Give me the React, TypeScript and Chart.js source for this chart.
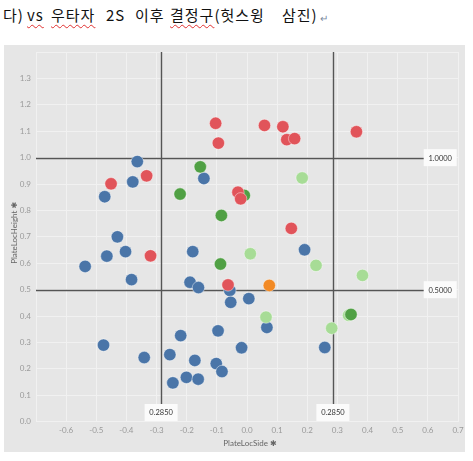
import React, { useEffect, useRef } from "react";
import { Chart, registerables } from "chart.js";
Chart.register(...registerables);

// ---- data ----
const blueX = [-0.364, -0.379, -0.472, -0.143, -0.43, -0.403, -0.465, -0.537, -0.383, -0.18, 0.191, -0.189, -0.161, -0.057, -0.054, 0.006, 0.066, -0.096, -0.22, -0.018, 0.258, -0.476, -0.341, -0.256, -0.173, -0.102, -0.083, -0.201, -0.162, -0.246];
const blueY = [0.985, 0.908, 0.852, 0.921, 0.7, 0.644, 0.627, 0.588, 0.538, 0.644, 0.651, 0.528, 0.508, 0.497, 0.452, 0.466, 0.357, 0.344, 0.326, 0.28, 0.281, 0.29, 0.243, 0.254, 0.232, 0.22, 0.19, 0.168, 0.161, 0.147];
const lightGreenX = [0.183, 0.011, 0.229, 0.383, 0.063, 0.337, 0.281];
const lightGreenY = [0.923, 0.636, 0.592, 0.554, 0.396, 0.403, 0.354];
const greenX = [-0.155, -0.222, -0.009, -0.085, -0.088, 0.345];
const greenY = [0.965, 0.862, 0.857, 0.781, 0.597, 0.406];
const orangeX = [0.074];
const orangeY = [0.516];
const redX = [-0.104, -0.095, 0.058, 0.119, 0.132, 0.158, 0.363, -0.333, -0.451, -0.03, -0.021, 0.147, -0.32, -0.063];
const redY = [1.13, 1.055, 1.122, 1.117, 1.068, 1.072, 1.098, 0.931, 0.901, 0.869, 0.844, 0.732, 0.628, 0.518];

const refSide = [-0.285, 0.285];
const refHeight = [1.0, 0.5];

const xTitle = "PlateLocSide \u2731";
const yTitle = "PlateLocHeight \u2731";

const pts = (xs: number[], ys: number[]) => xs.map((x, i) => ({ x, y: ys[i] }));

const refPlugin = {
  id: "refLines",
  beforeDatasetsDraw(chart: any) {
    const { ctx, chartArea: a, scales } = chart;
    ctx.save();
    ctx.strokeStyle = "#555555";
    ctx.lineWidth = 1.4;
    refHeight.forEach((v) => {
      const py = Math.round(scales.y.getPixelForValue(v)) + 0.5;
      ctx.beginPath();
      ctx.moveTo(a.left, py);
      ctx.lineTo(a.right - 34, py);
      ctx.stroke();
    });
    refSide.forEach((v) => {
      const px = Math.round(scales.x.getPixelForValue(v)) + 0.5;
      ctx.beginPath();
      ctx.moveTo(px, a.top);
      ctx.lineTo(px, a.bottom - 17);
      ctx.stroke();
    });
    ctx.restore();
  },
  afterDatasetsDraw(chart: any) {
    const { ctx, chartArea: a, scales } = chart;
    ctx.save();
    ctx.font = "7.5px Lato, 'DejaVu Sans', sans-serif";
    ctx.textAlign = "center";
    ctx.textBaseline = "middle";
    const box = (cx: number, cy: number, txt: string) => {
      ctx.fillStyle = "#fbfbfb";
      ctx.fillRect(cx - 16.5, cy - 8.5, 33, 17);
      ctx.fillStyle = "#333333";
      ctx.fillText(txt, cx, cy + 0.5);
    };
    refHeight.forEach((v) => {
      const py = scales.y.getPixelForValue(v);
      box(a.right - 17.8, py, Math.abs(v).toFixed(4));
    });
    refSide.forEach((v) => {
      const px = scales.x.getPixelForValue(v);
      box(px, a.bottom - 9.2, Math.abs(v).toFixed(4));
    });
    ctx.restore();
  },
  afterDraw(chart: any) {
    const { ctx, chartArea: a } = chart;
    ctx.save();
    ctx.font = "8px Lato, 'DejaVu Sans', sans-serif";
    ctx.fillStyle = "#666666";
    ctx.textAlign = "center";
    ctx.textBaseline = "middle";
    ctx.fillText(xTitle, (a.left + a.right) / 2 + 3, 398);
    ctx.translate(10, (a.top + a.bottom) / 2 - 4);
    ctx.rotate(-Math.PI / 2);
    ctx.fillText(yTitle, 0, 0);
    ctx.restore();
  },
};

export default function App() {
  const ref = useRef<HTMLCanvasElement>(null);
  useEffect(() => {
    const c = ref.current!;
    const ds = (label: string, xs: number[], ys: number[], color: string, order: number) => ({
      label,
      data: pts(xs, ys),
      backgroundColor: color,
      borderColor: "rgba(255,255,255,0.55)",
      borderWidth: 0.8,
      pointRadius: 6.2,
      order,
    });
    const tickFont = { family: "Lato, 'DejaVu Sans', sans-serif", size: 8 };
    const chart = new Chart(c, {
      type: "scatter",
      data: {
        datasets: [
          ds("blue", blueX, blueY, "#4a75a8", 4),
          ds("lightgreen", lightGreenX, lightGreenY, "#a7dc96", 3),
          ds("green", greenX, greenY, "#50a044", 2),
          ds("orange", orangeX, orangeY, "#f28a25", 1),
          ds("red", redX, redY, "#e1545a", 0),
        ],
      },
      options: {
        responsive: false,
        animation: false,
        layout: { padding: { top: 5, right: 5, left: 0, bottom: 0 } },
        plugins: { legend: { display: false }, tooltip: { enabled: false } },
        scales: {
          x: {
            type: "linear",
            min: -0.7,
            max: 0.7,
            afterFit: (s: any) => { s.height = 30.3; s.paddingLeft = 0; s.paddingRight = 0; },
            grid: { color: "#f1f1f1", lineWidth: 1, drawTicks: false },
            border: { display: false },
            ticks: {
              stepSize: 0.1,
              padding: 4,
              color: "#9a9a9a",
              font: tickFont,
              maxRotation: 0,
              autoSkip: false,
              callback: (v: any) => {
                const r = Math.round(Number(v) * 10) / 10;
                if (Math.abs(r + 0.7) < 1e-6) return "";
                return (r === 0 ? 0 : r).toFixed(1);
              },
            },
          },
          y: {
            type: "linear",
            min: 0,
            max: 1.4,
            afterFit: (s: any) => { s.width = 32; s.paddingTop = 0; s.paddingBottom = 0; },
            grid: { color: "#f1f1f1", lineWidth: 1, drawTicks: false },
            border: { display: false },
            ticks: {
              stepSize: 0.1,
              padding: 5,
              color: "#9a9a9a",
              font: tickFont,
              autoSkip: false,
              callback: (v: any) => {
                const r = Math.round(Number(v) * 10) / 10;
                if (Math.abs(r - 1.4) < 1e-6) return "";
                return r.toFixed(1);
              },
            },
          },
        },
      },
      plugins: [refPlugin],
    } as any);
    return () => chart.destroy();
  }, []);

  const kr = "'Noto Sans CJK KR', 'Noto Sans', sans-serif";
  const word = (left: number, text: React.ReactNode, extra: React.CSSProperties = {}) => (
    <span style={{ position: "absolute", left, top: 5, lineHeight: "20px", fontSize: 15, letterSpacing: "1px", fontFamily: kr, color: "#111", whiteSpace: "nowrap", ...extra }}>{text}</span>
  );
  const wavy: React.CSSProperties = { textDecorationLine: "underline", textDecorationStyle: "wavy", textDecorationColor: "#e03030", textDecorationThickness: "1px", textUnderlineOffset: "3px" };

  return (
    <div style={{ position: "fixed", left: 0, top: 0, width: 473, height: 461, background: "#ffffff", overflow: "hidden" }}>
      {word(3, "다)")}
      {word(27, <span style={wavy}>vs</span>)}
      {word(51, <span style={wavy}>우타자</span>)}
      {word(106, "2S")}
      {word(135, "이후")}
      {word(170, <><span style={wavy}>결정구</span>(헛스윙</>)}
      {word(282, "삼진)")}
      {word(320, "↵", { fontSize: 10, color: "#7a8aa0", top: 8, letterSpacing: 0 })}
      <div style={{ position: "absolute", left: 4, top: 45, width: 461, height: 407, background: "#e6e6e6" }}>
        <canvas ref={ref} width={461} height={407} style={{ display: "block", width: 461, height: 407 }} />
      </div>
    </div>
  );
}
